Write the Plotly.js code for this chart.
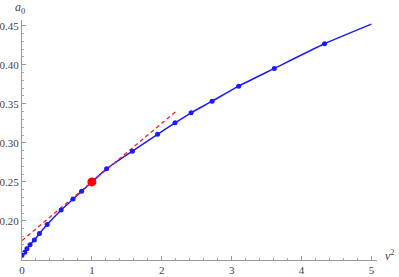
<!DOCTYPE html>
<html>
<head>
<meta charset="utf-8">
<script src="https://cdn.plot.ly/plotly-3.0.1.min.js"></script>
<style>html,body{margin:0;padding:0;background:#fff;}#chart{width:399px;height:277px;}</style>
</head>
<body>
<div id="chart"></div>
<script>
// Data
const pointsX = [0, 0.04, 0.07, 0.115, 0.177, 0.25, 0.36, 0.56, 0.73, 0.853, 1.21, 1.58, 1.94, 2.19, 2.42, 2.72, 3.10, 3.61, 4.33];
const pointsY = [0.156, 0.160, 0.1645, 0.1696, 0.1756, 0.1838, 0.1953, 0.214, 0.228, 0.238, 0.2667, 0.2894, 0.311, 0.3256, 0.3385, 0.3533, 0.3726, 0.3953, 0.4269];
const curveX = [0, 0.04, 0.07, 0.115, 0.177, 0.25, 0.36, 0.56, 0.73, 0.853, 1.0, 1.21, 1.58, 1.94, 2.19, 2.42, 2.72, 3.10, 3.61, 4.33, 5.0];
const curveY = [0.156, 0.160, 0.1645, 0.1696, 0.1756, 0.1838, 0.1953, 0.214, 0.228, 0.238, 0.25, 0.2667, 0.2894, 0.311, 0.3256, 0.3385, 0.3533, 0.3726, 0.3953, 0.4269, 0.452];
const tangentX = [0, 2.2];
const tangentY = [0.175, 0.34];
const refX = [1];
const refY = [0.25];
const xTicks = [0, 1, 2, 3, 4, 5];
const yTicks = [0.20, 0.25, 0.30, 0.35, 0.40, 0.45];
const yTickText = ['0.20', '0.25', '0.30', '0.35', '0.40', '0.45'];

const traces = [
  {x: curveX, y: curveY, mode: 'lines', line: {color: '#1a1aff', width: 1.5, shape: 'spline', smoothing: 0.6}, hoverinfo: 'skip'},
  {x: tangentX, y: tangentY, mode: 'lines', line: {color: '#ff1a1a', width: 1.3, dash: '4px,3px'}},
  {x: pointsX, y: pointsY, mode: 'markers', marker: {color: '#1a1aff', size: 5}},
  {x: refX, y: refY, mode: 'markers', marker: {color: '#ff0000', size: 9}}
];

const serif = '"Times New Roman", "Liberation Serif", "DejaVu Serif", serif';
const axisFont = {family: serif, size: 11, color: '#444'};
const layout = {
  width: 399, height: 277,
  margin: {l: 22, r: 22, t: 20, b: 17},
  paper_bgcolor: '#fff', plot_bgcolor: '#fff',
  font: {family: serif, size: 11, color: '#444'},
  showlegend: false,
  xaxis: {
    range: [0, 5.08], showgrid: false, zeroline: false,
    showline: true, linecolor: '#999', linewidth: 1,
    tickvals: xTicks, ticktext: xTicks.map(String),
    ticks: 'inside', ticklen: 4, tickcolor: '#999', tickfont: axisFont,
    minor: {dtick: 0.2, tick0: 0, ticks: 'inside', ticklen: 2, tickcolor: '#aaa', showgrid: false}
  },
  yaxis: {
    range: [0.15, 0.4573], showgrid: false, zeroline: false,
    showline: true, linecolor: '#999', linewidth: 1,
    tickvals: yTicks, ticktext: yTickText,
    ticks: 'inside', ticklen: 4, tickcolor: '#999', tickfont: axisFont,
    minor: {dtick: 0.01, tick0: 0.15, ticks: 'inside', ticklen: 2, tickcolor: '#aaa', showgrid: false}
  },
  annotations: [
    {xref: 'paper', yref: 'paper', x: -0.005, y: 1.05, text: '<i>a</i><sub>0</sub>', showarrow: false, xanchor: 'center', yanchor: 'middle', font: {family: serif, size: 12, color: '#444'}},
    {xref: 'paper', yref: 'paper', x: 1.037, y: 0.02, text: '<i>v</i><sup>2</sup>', showarrow: false, xanchor: 'center', yanchor: 'middle', font: {family: serif, size: 12, color: '#444'}}
  ]
};
Plotly.newPlot('chart', traces, layout, {staticPlot: true, displayModeBar: false});
</script>
</body>
</html>
